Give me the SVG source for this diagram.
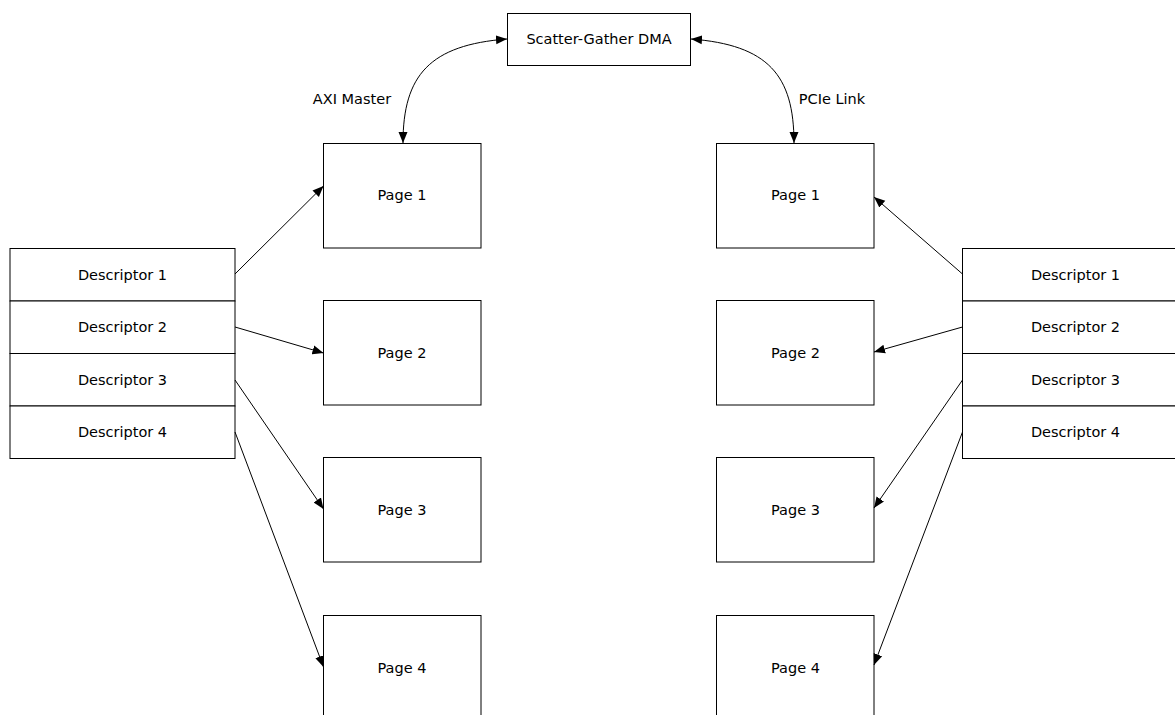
<svg xmlns="http://www.w3.org/2000/svg" width="1175" height="715" viewBox="0 0 1175 715">
<style>
.box{fill:#fff;stroke:#000;stroke-width:1}
.t{font-family:"DejaVu Sans",Verdana,sans-serif;font-size:14.5px;fill:#000;text-anchor:middle}
.c{fill:none;stroke:#000;stroke-width:1}
</style>
<defs>
<marker id="ah" viewBox="0 0 11 10" refX="11" refY="5" markerWidth="11" markerHeight="10" markerUnits="userSpaceOnUse" orient="auto-start-reverse">
<path d="M0,0.5 L11,5 L0,9.5 Z" fill="#000"/>
</marker>
</defs>
<rect x="0" y="0" width="1175" height="715" fill="#fff"/>
<g id="dma"><rect class="box" x="507.5" y="13.5" width="183" height="52"/><text class="t" x="599" y="44">Scatter-Gather DMA</text></g>
<g id="label-axi"><text class="t" x="352" y="104">AXI Master</text></g>
<g id="label-pcie"><text class="t" x="832" y="104">PCIe Link</text></g>
<g id="lp1"><rect class="box" x="323.5" y="143.5" width="157.5" height="104.5"/><text class="t" x="402" y="200">Page 1</text></g>
<g id="lp2"><rect class="box" x="323.5" y="300.5" width="157.5" height="104.5"/><text class="t" x="402" y="358">Page 2</text></g>
<g id="lp3"><rect class="box" x="323.5" y="457.5" width="157.5" height="104.5"/><text class="t" x="402" y="515">Page 3</text></g>
<g id="lp4"><rect class="box" x="323.5" y="615.5" width="157.5" height="104.5"/><text class="t" x="402" y="673">Page 4</text></g>
<g id="rp1"><rect class="box" x="716.5" y="143.5" width="157.5" height="104.5"/><text class="t" x="795.5" y="200">Page 1</text></g>
<g id="rp2"><rect class="box" x="716.5" y="300.5" width="157.5" height="104.5"/><text class="t" x="795.5" y="358">Page 2</text></g>
<g id="rp3"><rect class="box" x="716.5" y="457.5" width="157.5" height="104.5"/><text class="t" x="795.5" y="515">Page 3</text></g>
<g id="rp4"><rect class="box" x="716.5" y="615.5" width="157.5" height="104.5"/><text class="t" x="795.5" y="673">Page 4</text></g>
<g id="ld1"><rect class="box" x="10" y="248.5" width="225" height="52.5"/><text class="t" x="122.5" y="279.5">Descriptor 1</text></g>
<g id="ld2"><rect class="box" x="10" y="301" width="225" height="52.5"/><text class="t" x="122.5" y="332">Descriptor 2</text></g>
<g id="ld3"><rect class="box" x="10" y="353.5" width="225" height="52.5"/><text class="t" x="122.5" y="384.5">Descriptor 3</text></g>
<g id="ld4"><rect class="box" x="10" y="406" width="225" height="52.5"/><text class="t" x="122.5" y="437">Descriptor 4</text></g>
<g id="rd1"><rect class="box" x="962.5" y="248.5" width="225" height="52.5"/><text class="t" x="1075.5" y="279.5">Descriptor 1</text></g>
<g id="rd2"><rect class="box" x="962.5" y="301" width="225" height="52.5"/><text class="t" x="1075.5" y="332">Descriptor 2</text></g>
<g id="rd3"><rect class="box" x="962.5" y="353.5" width="225" height="52.5"/><text class="t" x="1075.5" y="384.5">Descriptor 3</text></g>
<g id="rd4"><rect class="box" x="962.5" y="406" width="225" height="52.5"/><text class="t" x="1075.5" y="437">Descriptor 4</text></g>
<g id="connectors">
<path class="c" d="M507,39 C430,45 403,75 403,143" marker-start="url(#ah)" marker-end="url(#ah)"/>
<path class="c" d="M691,39 C768,45 794,75 794,143" marker-start="url(#ah)" marker-end="url(#ah)"/>
<path class="c" d="M235,274 L323.5,186" marker-end="url(#ah)"/>
<path class="c" d="M235,327 L323.5,353" marker-end="url(#ah)"/>
<path class="c" d="M235,380 L323.5,509" marker-end="url(#ah)"/>
<path class="c" d="M235,432 L323.5,667" marker-end="url(#ah)"/>
<path class="c" d="M962.5,274 L874,197" marker-end="url(#ah)"/>
<path class="c" d="M962.5,327 L874,352" marker-end="url(#ah)"/>
<path class="c" d="M962.5,380 L874,508" marker-end="url(#ah)"/>
<path class="c" d="M962.5,432 L874,665" marker-end="url(#ah)"/>
</g>
</svg>
